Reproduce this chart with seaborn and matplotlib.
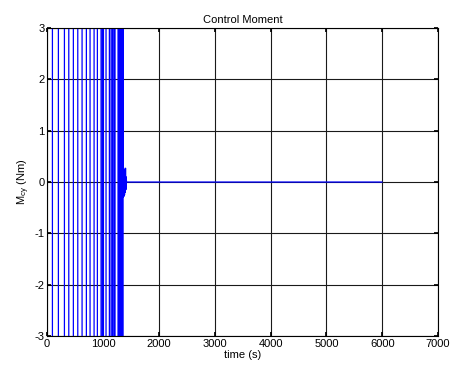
import numpy as np
import pandas as pd
import matplotlib
matplotlib.use("Agg")
import matplotlib.pyplot as plt
import seaborn as sns

# switching instants of the saturated (bang-bang) phase, seconds
switch_times = [95, 202, 310, 388, 470, 549, 626, 703, 769, 841, 900,
                966, 990, 1007, 1055, 1115, 1145, 1170, 1195, 1216,
                1270, 1285, 1300, 1315, 1330, 1340, 1350, 1358]
saturation_level = 10.0  # moment during saturated phase (off-scale)
# settling tail after switching phase
tail_times = [1362, 1368, 1374, 1380, 1386, 1392, 1398, 1404, 1410, 1416, 1422, 6000]
tail_values = [-0.3, 0.28, -0.28, 0.25, -0.25, 0.22, -0.2, 0.27, -0.15, 0.1, 0.0, 0.0]

# build the time series
t = [0.0]
m = [saturation_level]
sign = 1
for ts in switch_times:
    t.append(ts); m.append(sign * saturation_level)
    sign = -sign
    t.append(ts); m.append(sign * saturation_level)
t += tail_times
m += tail_values
df = pd.DataFrame({"time": t, "M": m, "idx": np.arange(len(t))})

sns.set_theme(style="white")
plt.rcParams["font.family"] = ["Liberation Sans", "DejaVu Sans"]
plt.rcParams["mathtext.default"] = "regular"
plt.rcParams["axes.unicode_minus"] = False
plt.rcParams["text.color"] = "black"
plt.rcParams["axes.labelcolor"] = "black"

fig = plt.figure(figsize=(4.53, 3.70), dpi=100)
ax = fig.add_axes([0.104, 0.092, 0.863, 0.832])
sns.lineplot(data=df, x="time", y="M", sort=False, estimator=None,
             color="#0000ff", lw=0.9, ax=ax)

ax.set_xlim(0, 7000)
ax.set_ylim(-3, 3)
ax.set_xticks(np.arange(0, 7001, 1000))
ax.set_yticks(np.arange(-3, 4, 1))
ax.grid(True, color="#1a1a1a", lw=0.8, ls="-")
ax.set_axisbelow(True)
for s in ax.spines.values():
    s.set_color("black")
    s.set_linewidth(0.8)
ax.tick_params(direction="in", length=3, labelsize=8, colors="black",
               bottom=True, left=True, top=True, right=True, pad=2)
ax.set_xlabel("time (s)", fontsize=8, labelpad=1, color="black")
ax.set_ylabel(r"M$_{cy}$ (Nm)", fontsize=8, labelpad=2, color="black")
ax.set_title("Control Moment", fontsize=8, pad=4, color="black")

fig.savefig("out.png", dpi=100, facecolor="white")
